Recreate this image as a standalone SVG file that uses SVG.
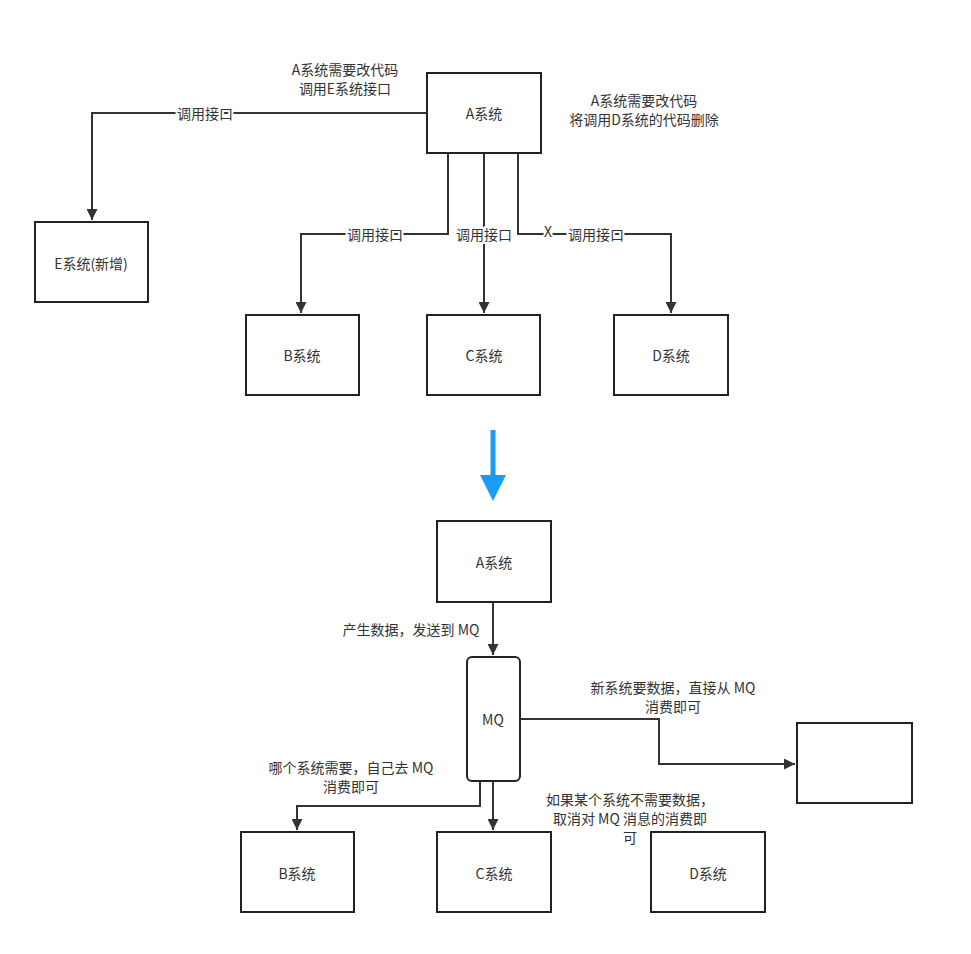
<svg xmlns="http://www.w3.org/2000/svg" width="971" height="954" viewBox="0 0 971 954">
<style>
.box{fill:#fff;stroke:#222;stroke-width:2}
.ln{fill:none;stroke:#333;stroke-width:2}
text{font-family:"Noto Sans CJK SC","Liberation Sans",sans-serif;font-size:14px;fill:#333;text-anchor:middle;dominant-baseline:central}
.lbl{paint-order:stroke;stroke:#fff;stroke-width:4}
</style>
<defs>
<marker id="arr" viewBox="0 0 10 10" refX="10" refY="5" markerWidth="6" markerHeight="5.5" orient="auto" markerUnits="strokeWidth">
<path d="M0,0 L10,5 L0,10 z" fill="#333"/>
</marker>
</defs>
<rect width="971" height="954" fill="#fff"/>
<g id="connectors">
<path class="ln" d="M427,113 H92 V220" marker-end="url(#arr)"/>
<path class="ln" d="M448,153 V234 H301 V313" marker-end="url(#arr)"/>
<path class="ln" d="M484,153 V313" marker-end="url(#arr)"/>
<path class="ln" d="M518,153 V234 H671 V313" marker-end="url(#arr)"/>
<path class="ln" d="M493,602 V655" marker-end="url(#arr)"/>
<path class="ln" d="M520,719 H659 V764 H795" marker-end="url(#arr)"/>
<path class="ln" d="M480,781 V806 H297 V830" marker-end="url(#arr)"/>
<path class="ln" d="M493,781 V830" marker-end="url(#arr)"/>
<text class="lbl" x="205" y="113">调用接口</text>
<text class="lbl" x="375" y="234">调用接口</text>
<text class="lbl" x="484" y="234">调用接口</text>
<text class="lbl" x="548" y="231">X</text>
<text class="lbl" x="596" y="234">调用接口</text>
</g>
<g id="blue-arrow">
<rect x="490.5" y="430" width="5" height="47" fill="#1a9cf5"/>
<path d="M480,475 H506 L493,501 z" fill="#1a9cf5"/>
</g>
<g id="note-top-left"><text x="345" y="68.5">A系统需要改代码</text><text x="345" y="88">调用E系统接口</text></g>
<g id="note-top-right"><text x="644" y="99.5">A系统需要改代码</text><text x="644" y="119">将调用D系统的代码删除</text></g>
<g id="A1"><rect class="box" x="427" y="73" width="114" height="80"/><text x="484" y="113">A系统</text></g>
<g id="E1"><rect class="box" x="35" y="222" width="113" height="80"/><text x="91" y="263">E系统(新增)</text></g>
<g id="B1"><rect class="box" x="246" y="315" width="113" height="80"/><text x="302" y="355">B系统</text></g>
<g id="C1"><rect class="box" x="427" y="315" width="113" height="80"/><text x="484" y="355">C系统</text></g>
<g id="D1"><rect class="box" x="614" y="315" width="114" height="80"/><text x="671" y="355">D系统</text></g>
<g id="A2"><rect class="box" x="437" y="521" width="114" height="81"/><text x="494" y="562">A系统</text></g>
<g id="MQ"><rect class="box" x="467" y="657" width="53" height="124" rx="5"/><text x="493" y="719">MQ</text></g>
<g id="New"><rect class="box" x="797" y="723" width="115" height="80"/></g>
<g id="B2"><rect class="box" x="241" y="832" width="113" height="80"/><text x="297" y="873">B系统</text></g>
<g id="C2"><rect class="box" x="437" y="832" width="114" height="80"/><text x="494" y="873">C系统</text></g>
<g id="D2"><rect class="box" x="651" y="832" width="114" height="80"/><text x="708" y="873">D系统</text></g>
<g id="labels-bottom">
<text x="411" y="629">产生数据，发送到 MQ</text>
<text x="673" y="686.5">新系统要数据，直接从 MQ</text>
<text x="673" y="706">消费即可</text>
<text x="351" y="766.5">哪个系统需要，自己去 MQ</text>
<text x="351" y="786">消费即可</text>
<text x="630" y="799">如果某个系统不需要数据，</text>
<text x="630" y="818">取消对 MQ 消息的消费即</text>
<text x="630" y="837">可</text>
</g>
</svg>
